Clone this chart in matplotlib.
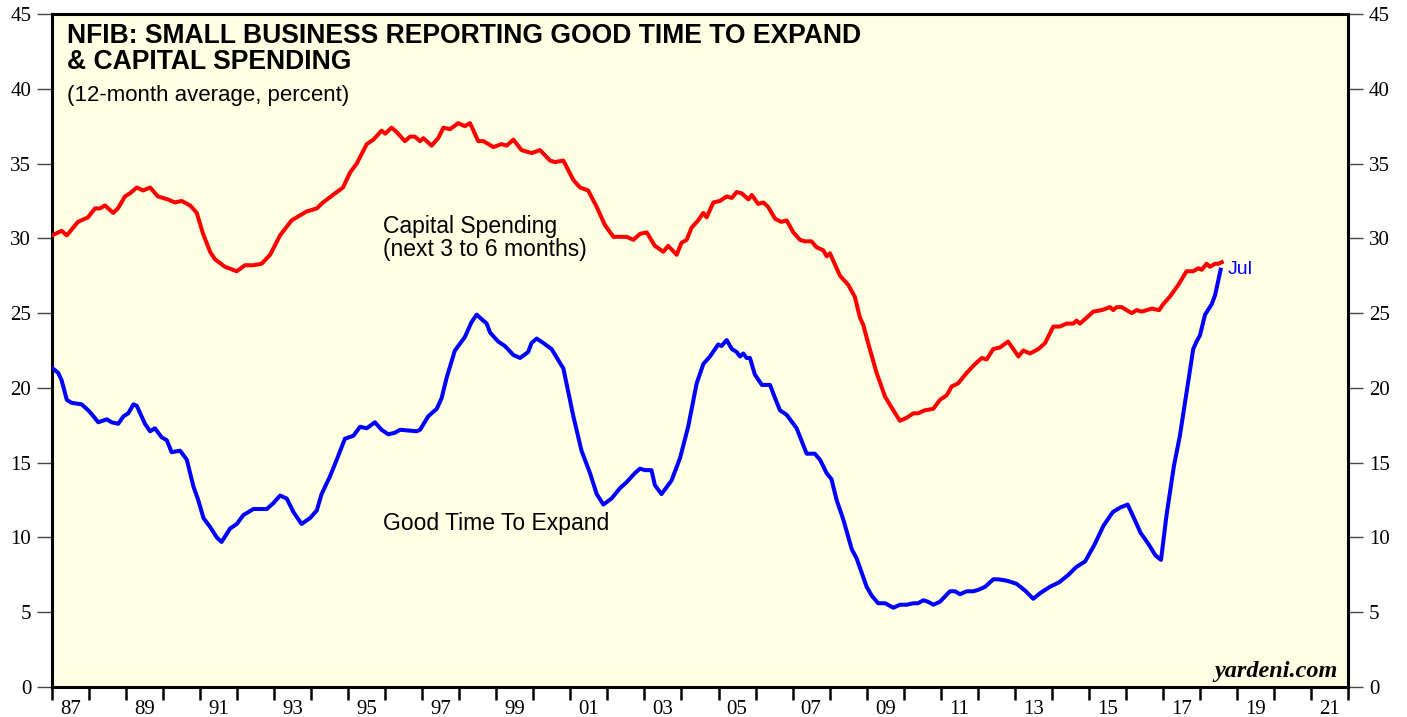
import matplotlib
matplotlib.use("Agg")
import matplotlib.pyplot as plt
import numpy as np

# ---- data ----
cap_years = [1987.0, 1987.26, 1987.4, 1987.7, 1987.97, 1988.16, 1988.3, 1988.43, 1988.65, 1988.78,
             1988.97, 1989.1, 1989.29, 1989.46, 1989.65, 1989.86, 1990.13, 1990.32, 1990.5, 1990.73,
             1990.91, 1991.08, 1991.27, 1991.4, 1991.67, 1991.99, 1992.21, 1992.43, 1992.66, 1992.89,
             1993.16, 1993.47, 1993.88, 1994.15, 1994.32, 1994.64, 1994.86, 1995.05, 1995.23, 1995.5,
             1995.68, 1995.9, 1996.0, 1996.17, 1996.31, 1996.53, 1996.67, 1996.8, 1996.94, 1997.03,
             1997.25, 1997.43, 1997.57, 1997.75, 1997.97, 1998.15, 1998.29, 1998.51, 1998.65, 1998.92,
             1999.14, 1999.28, 1999.46, 1999.68, 1999.95, 2000.18, 2000.45, 2000.58, 2000.81, 2001.08,
             2001.26, 2001.48, 2001.71, 2001.93, 2002.16, 2002.52, 2002.7, 2002.88, 2003.06, 2003.28,
             2003.51, 2003.64, 2003.87, 2004.0, 2004.14, 2004.27, 2004.45, 2004.59, 2004.68, 2004.86,
             2005.04, 2005.22, 2005.36, 2005.49, 2005.63, 2005.81, 2005.9, 2006.07, 2006.21, 2006.34,
             2006.53, 2006.7, 2006.84, 2007.02, 2007.2, 2007.33, 2007.51, 2007.65, 2007.83, 2007.92,
             2008.01, 2008.28, 2008.5, 2008.68, 2008.82, 2008.91, 2009.04, 2009.27, 2009.5, 2009.72,
             2009.9, 2010.08, 2010.26, 2010.39, 2010.57, 2010.8, 2010.98, 2011.16, 2011.3, 2011.47,
             2011.7, 2011.93, 2012.11, 2012.24, 2012.42, 2012.6, 2012.82, 2013.1, 2013.23, 2013.41,
             2013.64, 2013.82, 2014.04, 2014.22, 2014.4, 2014.58, 2014.67, 2014.76, 2014.9, 2015.12,
             2015.35, 2015.57, 2015.66, 2015.75, 2015.89, 2016.02, 2016.16, 2016.29, 2016.43, 2016.56,
             2016.7, 2016.9, 2017.01, 2017.19, 2017.42, 2017.64, 2017.82, 2017.96, 2018.05, 2018.18,
             2018.27, 2018.41, 2018.5, 2018.59]
cap_values = [30.2, 30.5, 30.2, 31.1, 31.4, 32.0, 32.0, 32.2, 31.7, 32.0,
              32.8, 33.0, 33.4, 33.2, 33.4, 32.8, 32.6, 32.4, 32.5, 32.2,
              31.7, 30.3, 29.1, 28.6, 28.1, 27.8, 28.2, 28.2, 28.3, 28.9,
              30.2, 31.2, 31.8, 32.0, 32.4, 33.0, 33.4, 34.4, 35.0, 36.3,
              36.6, 37.2, 37.0, 37.4, 37.1, 36.5, 36.8, 36.8, 36.5, 36.7,
              36.2, 36.7, 37.4, 37.3, 37.7, 37.5, 37.7, 36.5, 36.5, 36.1,
              36.3, 36.2, 36.6, 35.9, 35.7, 35.9, 35.2, 35.1, 35.2, 33.9,
              33.4, 33.2, 32.1, 30.9, 30.1, 30.1, 29.9, 30.3, 30.4, 29.5,
              29.1, 29.5, 28.9, 29.7, 29.9, 30.7, 31.2, 31.7, 31.4, 32.4,
              32.5, 32.8, 32.7, 33.1, 33.0, 32.6, 32.9, 32.3, 32.4, 32.1,
              31.3, 31.1, 31.2, 30.4, 29.9, 29.8, 29.8, 29.4, 29.2, 28.8,
              29.0, 27.5, 26.9, 26.1, 24.7, 24.2, 23.0, 21.0, 19.4, 18.5,
              17.8, 18.0, 18.3, 18.3, 18.5, 18.6, 19.2, 19.5, 20.1, 20.3,
              21.0, 21.6, 22.0, 21.9, 22.6, 22.7, 23.1, 22.1, 22.5, 22.3,
              22.6, 23.0, 24.1, 24.1, 24.3, 24.3, 24.5, 24.3, 24.6, 25.1,
              25.2, 25.4, 25.2, 25.4, 25.4, 25.2, 25.0, 25.2, 25.1, 25.2,
              25.3, 25.2, 25.6, 26.1, 26.9, 27.8, 27.8, 28.0, 27.9, 28.3,
              28.1, 28.3, 28.3, 28.4]

exp_years = [1987.02, 1987.17, 1987.26, 1987.4, 1987.53, 1987.8, 1987.98, 1988.12, 1988.25, 1988.48,
             1988.61, 1988.79, 1988.93, 1989.06, 1989.2, 1989.29, 1989.51, 1989.65, 1989.78, 1989.96,
             1990.1, 1990.23, 1990.46, 1990.64, 1990.82, 1990.95, 1991.09, 1991.27, 1991.45, 1991.58,
             1991.81, 1991.99, 1992.17, 1992.44, 1992.62, 1992.8, 1992.98, 1993.16, 1993.34, 1993.52,
             1993.74, 1993.97, 1994.15, 1994.28, 1994.51, 1994.69, 1994.91, 1995.14, 1995.32, 1995.5,
             1995.72, 1995.9, 1996.08, 1996.26, 1996.4, 1996.85, 1996.94, 1997.16, 1997.39, 1997.52,
             1997.66, 1997.88, 1998.15, 1998.33, 1998.47, 1998.6, 1998.74, 1998.83, 1999.05, 1999.23,
             1999.46, 1999.64, 1999.86, 1999.95, 2000.09, 2000.27, 2000.49, 2000.81, 2001.08, 2001.3,
             2001.53, 2001.71, 2001.89, 2002.11, 2002.34, 2002.52, 2002.74, 2002.88, 2003.01, 2003.19,
             2003.28, 2003.46, 2003.73, 2003.96, 2004.18, 2004.41, 2004.59, 2004.77, 2004.99, 2005.08,
             2005.22, 2005.36, 2005.49, 2005.58, 2005.67, 2005.76, 2005.85, 2005.98, 2006.17, 2006.39,
             2006.53, 2006.66, 2006.84, 2007.11, 2007.38, 2007.6, 2007.74, 2007.92, 2008.05, 2008.19,
             2008.37, 2008.6, 2008.73, 2009.0, 2009.14, 2009.31, 2009.5, 2009.72, 2009.9, 2010.08,
             2010.26, 2010.39, 2010.53, 2010.66, 2010.8, 2010.98, 2011.25, 2011.39, 2011.52, 2011.7,
             2011.88, 2012.02, 2012.2, 2012.42, 2012.56, 2012.8, 2013.05, 2013.3, 2013.5, 2013.7,
             2013.95, 2014.2, 2014.45, 2014.65, 2014.9, 2015.15, 2015.4, 2015.65, 2015.85, 2016.05,
             2016.2, 2016.4, 2016.6, 2016.8, 2016.95, 2017.1, 2017.3, 2017.46, 2017.64, 2017.82,
             2017.91, 2018.0, 2018.14, 2018.32, 2018.41, 2018.56]
exp_values = [21.3, 21.0, 20.5, 19.2, 19.0, 18.9, 18.5, 18.1, 17.7, 17.9,
              17.7, 17.6, 18.1, 18.3, 18.9, 18.8, 17.6, 17.1, 17.3, 16.7,
              16.5, 15.7, 15.8, 15.2, 13.4, 12.5, 11.3, 10.7, 10.0, 9.7,
              10.6, 10.9, 11.5, 11.9, 11.9, 11.9, 12.3, 12.8, 12.6, 11.7,
              10.9, 11.3, 11.8, 12.9, 14.1, 15.2, 16.6, 16.8, 17.4, 17.3,
              17.7, 17.2, 16.9, 17.0, 17.2, 17.1, 17.2, 18.1, 18.6, 19.3,
              20.7, 22.5, 23.4, 24.4, 24.9, 24.6, 24.3, 23.7, 23.1, 22.8,
              22.2, 22.0, 22.4, 23.0, 23.3, 23.0, 22.6, 21.3, 18.1, 15.8,
              14.3, 12.9, 12.2, 12.6, 13.3, 13.7, 14.3, 14.6, 14.5, 14.5,
              13.5, 12.9, 13.8, 15.3, 17.4, 20.3, 21.6, 22.1, 22.9, 22.8,
              23.2, 22.6, 22.4, 22.1, 22.3, 22.0, 22.0, 20.9, 20.2, 20.2,
              19.3, 18.5, 18.2, 17.3, 15.6, 15.6, 15.2, 14.3, 13.9, 12.5,
              11.2, 9.2, 8.6, 6.7, 6.1, 5.6, 5.6, 5.3, 5.5, 5.5,
              5.6, 5.6, 5.8, 5.7, 5.5, 5.7, 6.4, 6.4, 6.2, 6.4,
              6.4, 6.5, 6.7, 7.2, 7.2, 7.1, 6.9, 6.4, 5.9, 6.3,
              6.7, 7.0, 7.5, 8.0, 8.4, 9.5, 10.8, 11.7, 12.0, 12.2,
              11.4, 10.3, 9.6, 8.8, 8.5, 11.5, 14.8, 16.8, 19.7, 22.6,
              23.1, 23.5, 24.9, 25.6, 26.2, 27.9]

year_ticks = list(range(1987, 2023))
label_years = list(range(1987, 2022, 2))
y_ticks = [0, 5, 10, 15, 20, 25, 30, 35, 40, 45]

W, H = 1407, 717
fig = plt.figure(figsize=(W / 100, H / 100), dpi=100)
fig.patch.set_facecolor("white")
ax = fig.add_axes([52 / W, 1 - 687 / H, (1348 - 52) / W, (687 - 14) / H])
ax.set_facecolor("#ffffe3")

ax.plot(cap_years, cap_values, color="#ff0000", lw=2.9, solid_joinstyle="round", zorder=3)
ax.plot(exp_years, exp_values, color="#0000ff", lw=2.9, solid_joinstyle="round", zorder=3)

ax.set_xlim(1987, 2022)
ax.set_ylim(0, 45)

for s in ax.spines.values():
    s.set_linewidth(2.2)
    s.set_color("black")

serif = "Liberation Serif"
sans = "Liberation Sans"

ax.set_yticks(y_ticks)
ax.set_yticklabels([str(v) for v in y_ticks], fontfamily=serif, fontsize=15)
ax.tick_params(axis="y", which="major", direction="out", length=11, width=1.0,
               color="#444444", left=True, right=True, labelleft=True, labelright=True, pad=4)

ax.set_xticks(year_ticks)
ax.set_xticklabels([])
ax.tick_params(axis="x", which="major", direction="out", length=9, width=1.8, color="black")
ax.set_xticks([y + 0.5 for y in label_years], minor=True)
ax.set_xticklabels(["%02d" % (y % 100) for y in label_years], minor=True, fontfamily=serif, fontsize=15)
ax.tick_params(axis="x", which="minor", length=0, pad=9)

# titles
fig.text(67 / W, 1 - 23 / H, "NFIB: SMALL BUSINESS REPORTING GOOD TIME TO EXPAND\n& CAPITAL SPENDING",
         fontfamily=sans, fontweight="bold", fontsize=19.1, va="top", ha="left", linespacing=1.0)
fig.text(67 / W, 1 - 85 / H, "(12-month average, percent)", fontfamily=sans, fontsize=16,
         va="top", ha="left")

ax.text(1995.94, 30.05, "Capital Spending\n(next 3 to 6 months)", fontfamily=sans, fontsize=16.5,
        va="center", ha="left", linespacing=1.0)
ax.text(1995.94, 10.9, "Good Time To Expand", fontfamily=sans, fontsize=16.5, va="center", ha="left")
ax.text(2018.75, 27.9, "Jul", fontfamily=sans, fontsize=14, color="#0000ff", va="center", ha="left")

ax.text(0.992, 0.015, "yardeni.com", transform=ax.transAxes, fontfamily=serif, fontweight="bold",
        fontstyle="italic", fontsize=17.5, ha="right", va="baseline")

fig.savefig("out.png", dpi=100)
